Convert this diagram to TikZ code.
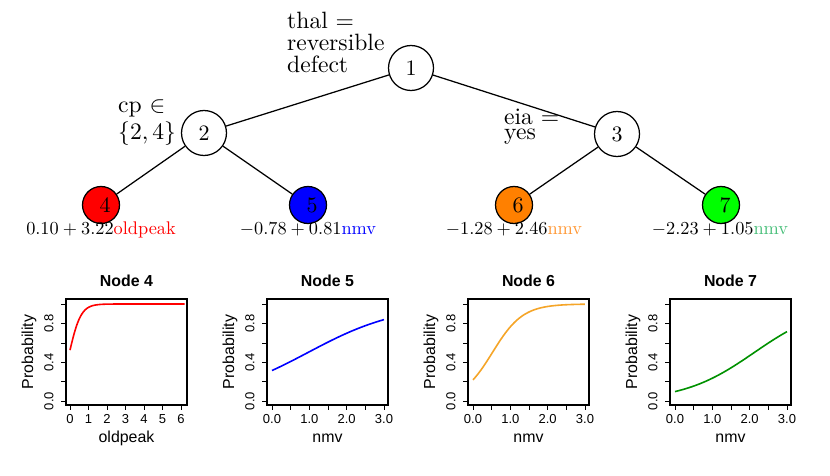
\documentclass[tikz,border=0pt]{standalone}
\usepackage{fontspec}
\usepackage{graphicx}
\newfontfamily\plotfont{Liberation Sans}
\definecolor{lfred}{RGB}{255,0,0}
\definecolor{lfblue}{RGB}{0,0,255}
\definecolor{lforange}{RGB}{255,128,0}
\definecolor{lfgreen}{RGB}{0,255,0}
\definecolor{txorange}{RGB}{255,150,50}
\definecolor{txgreen}{RGB}{70,190,120}
\definecolor{crorange}{RGB}{245,165,40}
\definecolor{crgreen}{RGB}{0,145,0}
\newcommand\splittxt[2]{\scalebox{2.36}{\vbox{\baselineskip=#1\lineskiplimit=-100pt\lineskip=0pt #2}}}
\newcommand\leaftxt[1]{\scalebox{1.83}{#1}}
\newcommand\numtxt[1]{\scalebox{2.2}{#1}}
\tikzset{
  inner/.style={circle,draw,line width=1.25pt,minimum size=45pt,inner sep=0pt,font=\fontsize{10}{12}\selectfont},
  leaf/.style={circle,draw,line width=1.25pt,minimum size=37pt,inner sep=0pt,font=\fontsize{10}{12}\selectfont},
  edge/.style={line width=1.25pt},
  splitlab/.style={anchor=base west,inner sep=0pt,font=\fontsize{10}{12}\selectfont},
  leaflab/.style={anchor=base,inner sep=0pt,font=\fontsize{10}{12}\selectfont},
  frame/.style={line width=1.6pt},
  tick/.style={line width=0.6pt},
  ticklab/.style={inner sep=0pt,font=\plotfont\fontsize{13}{13}\selectfont},
  axlab/.style={inner sep=0pt,font=\plotfont\fontsize{15.9}{16}\selectfont},
  ptitle/.style={anchor=base,inner sep=0pt,font=\plotfont\bfseries\fontsize{15.9}{16}\selectfont},
  curve/.style={line width=1.6pt}
}
\begin{document}
\begin{tikzpicture}[x=1pt,y=-1pt]
\useasboundingbox (0,0) rectangle (830,476);
% tree nodes
\node[inner] (n1) at (411,68) {\numtxt{1}};
\node[inner] (n2) at (204,133) {\numtxt{2}};
\node[inner] (n3) at (617,134) {\numtxt{3}};
\node[leaf,fill=lfred] (n4) at (101,205) {\hspace*{8pt}\numtxt{4}};
\node[leaf,fill=lfblue] (n5) at (308,205) {\hspace*{8pt}\numtxt{5}};
\node[leaf,fill=lforange] (n6) at (514,205) {\hspace*{8pt}\numtxt{6}};
\node[leaf,fill=lfgreen] (n7) at (721,205) {\hspace*{8pt}\numtxt{7}};
\draw[edge] (n1) -- (n2);
\draw[edge] (n1) -- (n3);
\draw[edge] (n2) -- (n4);
\draw[edge] (n2) -- (n5);
\draw[edge] (n3) -- (n6);
\draw[edge] (n3) -- (n7);
% split labels (anchored at the baseline of the last line)
\node[splitlab] (s1) at (287,73) {\splittxt{9.4pt}{\hbox{thal $=$}\hbox{reversible}\hbox{defect}}};
\node[splitlab] (s2) at (118,140) {\splittxt{11.86pt}{\hbox{cp $\in$}\hbox{$\{2,4\}$}}};
\node[splitlab] (s3) at (504,140) {\splittxt{6.36pt}{\hbox{eia $=$}\hbox{yes}}};
% leaf labels
\node[leaflab] (l4) at (101,234) {\leaftxt{$0.10+3.22$\textcolor{lfred}{oldpeak}}};
\node[leaflab] (l5) at (308,234) {\leaftxt{$-0.78+0.81$\textcolor{lfblue}{nmv}}};
\node[leaflab] (l6) at (514,234) {\leaftxt{$-1.28+2.46$\textcolor{txorange}{nmv}}};
\node[leaflab] (l7) at (720,234) {\leaftxt{$-2.23+1.05$\textcolor{txgreen}{nmv}}};
% panels
\foreach \px/\ttl in {66/4,267/5,468/6,670/7}{
  \begin{scope}[shift={(\px,0)}]
    \draw[frame] (0,299) rectangle (121,405);
    \foreach \p in {0,0.2,...,1.01}
      \draw[tick] (-5,{401-97*\p}) -- (0,{401-97*\p});
    \foreach \p/\lab in {0/0.0,0.4/0.4,0.8/0.8}
      \node[ticklab,rotate=90] at (-17,{401-97*\p}) {\lab};
    \node[axlab,rotate=90] at (-37,352) {Probability};
    \node[ptitle] at (60.5,286) {Node \ttl};
  \end{scope}
}
% x axes
\begin{scope}[shift={(66,0)}]
  \foreach \v in {0,...,6}{
    \draw[tick] ({4+18.5*\v},405) -- ({4+18.5*\v},410);
    \node[ticklab] at ({4+18.5*\v},419) {\v};
  }
  \node[axlab] at (60.5,438) {oldpeak};
  \draw[curve,lfred] plot[domain=0:6.2,samples=80,smooth] ({4+18.5*\x},{401-97/(1+exp(-(0.10+3.22*\x)))});
\end{scope}
\foreach \px/\a/\b/\col in {267/-0.78/0.81/lfblue,468/-1.28/2.46/crorange,670/-2.23/1.05/crgreen}{
  \begin{scope}[shift={(\px,0)}]
    \foreach \v in {0,0.5,...,3.01}
      \draw[tick] ({5+37.33*\v},405) -- ({5+37.33*\v},410);
    \foreach \v/\lab in {0/0.0,1/1.0,2/2.0,3/3.0}
      \node[ticklab] at ({5+37.33*\v},419) {\lab};
    \node[axlab] at (60.5,438) {nmv};
    \draw[curve,\col] plot[domain=0:3,samples=60,smooth] ({5+37.33*\x},{401-97/(1+exp(-(\a+\b*\x)))});
  \end{scope}
}
\end{tikzpicture}
\end{document}
